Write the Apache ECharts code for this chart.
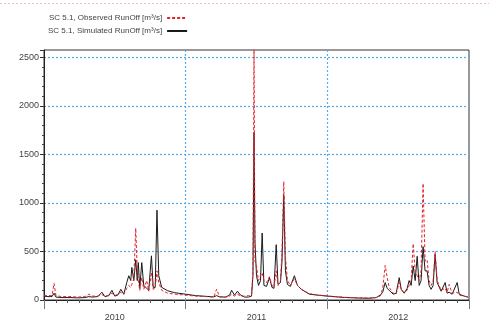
<!DOCTYPE html>
<html>
<head>
<meta charset="utf-8">
<script src="https://cdn.jsdelivr.net/npm/echarts@6/dist/echarts.min.js"></script>
<style>
  html, body { margin: 0; padding: 0; background: #fff; }
  #chart { width: 489px; height: 322px; }
</style>
</head>
<body>
<div id="chart"></div>
<script>
// months since 1 Jan 2010 (0..36)
const months = [
  0, 0.34, 0.68, 0.85, 1.01, 1.52, 2.20, 2.87, 3.46, 3.80, 4.06, 4.56, 4.90, 5.16, 5.49, 5.75,
  6.00, 6.25, 6.51, 6.76, 7.01, 7.18, 7.35, 7.44, 7.61, 7.77, 7.90, 7.99, 8.11, 8.28, 8.45, 8.70,
  8.87, 9.10, 9.25, 9.42, 9.57, 9.72, 9.97, 10.48, 11.07, 12.00, 12.85, 13.69, 14.37, 14.62, 14.87,
  15.38, 15.72, 15.89, 16.14, 16.39, 16.65, 16.99, 17.32, 17.58, 17.70, 17.79, 17.87, 18.00, 18.17,
  18.34, 18.48, 18.63, 18.85, 19.10, 19.31, 19.48, 19.67, 19.82, 20.03, 20.16, 20.31, 20.45, 20.62,
  20.87, 21.21, 21.47, 21.80, 22.48, 23.32, 24.17, 25.44, 26.70, 27.55, 28.14, 28.48, 28.69, 28.90,
  29.07, 29.24, 29.58, 29.83, 30.09, 30.26, 30.51, 30.76, 30.93, 31.10, 31.27, 31.44, 31.61, 31.78,
  31.94, 32.11, 32.28, 32.45, 32.62, 32.79, 32.96, 33.13, 33.30, 33.64, 33.98, 34.15, 34.32, 34.57,
  35.00, 35.17, 35.59, 35.92
]

const observed = [
  50, 45, 45, 170, 45, 35, 35, 30, 35, 60, 40, 40, 55, 40, 50, 70,
  45, 60, 80, 60, 120, 150, 130, 160, 220, 740, 300, 200, 100, 230, 110, 200,
  90, 285, 110, 120, 300, 180, 100, 70, 60, 50, 40, 35, 30, 110, 35,
  30, 40, 60, 40, 60, 40, 40, 45, 50, 300, 2600, 400, 350, 200,
  250, 280, 200, 180, 240, 150, 130, 300, 150, 200, 500, 1220, 450, 200,
  150, 220, 150, 110, 65, 50, 40, 28, 22, 20, 25, 40, 120, 355,
  230, 130, 70, 60, 180, 100, 80, 100, 150, 200, 580, 300, 250, 200,
  300, 1200, 400, 415, 200, 150, 200, 500, 200, 100, 120, 80, 160, 70,
  80, 50, 40, 30
]

const simulated = [
  40, 35, 35, 70, 30, 25, 25, 22, 25, 35, 30, 35, 80, 35, 45, 100,
  40, 50, 110, 60, 180, 250, 200, 335, 200, 415, 200, 385, 120, 385, 150, 120,
  100, 455, 130, 130, 925, 250, 130, 95, 75, 60, 45, 38, 32, 45, 32,
  30, 50, 100, 50, 90, 50, 30, 30, 40, 250, 1720, 600, 250, 150,
  200, 690, 150, 140, 230, 130, 120, 570, 160, 180, 400, 1080, 300, 160,
  140, 250, 150, 110, 60, 48, 38, 26, 20, 18, 25, 50, 80, 180,
  120, 100, 60, 70, 230, 110, 70, 120, 200, 150, 350, 200, 450, 150,
  200, 550, 300, 300, 150, 110, 150, 470, 180, 90, 180, 70, 80, 60,
  180, 60, 40, 30
]

const yearLabels = ['2010', '2011', '2012']

const obsData = months.map((m, i) => [m, observed[i]])
const simData = months.map((m, i) => [m, simulated[i]])

const chart = echarts.init(document.getElementById('chart'))

const labelFont = 'Liberation Sans Narrow, Arial Narrow, Liberation Sans, sans-serif'
const gridBlue = '#5aaae8'

const option = {
  animation: false,
  backgroundColor: '#fff',
  grid: {
    left: 44,
    top: 50,
    right: 20,
    bottom: 19,
    show: true,
    borderColor: '#333',
    borderWidth: 1
  },
  legend: {
    orient: 'vertical',
    left: 43,
    top: 9,
    align: 'right',
    itemWidth: 20,
    itemHeight: 8,
    itemGap: 5,
    itemStyle: { opacity: 0 },
    textStyle: { color: '#444', fontSize: 8, fontFamily: labelFont },
    data: ['SC 5.1, Observed RunOff [m³/s]', 'SC 5.1, Simulated RunOff [m³/s]']
  },
  graphic: [
    {
      type: 'line',
      shape: { x1: 0, y1: 3.5, x2: 489, y2: 3.5 },
      style: { stroke: '#f2c2c2', lineWidth: 1, lineDash: [2, 2] }
    }
  ],
  xAxis: [
    {
      type: 'value',
      min: 0,
      max: 36,
      interval: 12,
      axisLine: { lineStyle: { color: '#222' } },
      axisTick: { length: 9, lineStyle: { color: '#777' } },
      minorTick: { show: true, splitNumber: 12, length: 3, lineStyle: { color: '#555' } },
      axisLabel: { show: false },
      splitLine: {
        show: true,
        showMinLine: false,
        showMaxLine: false,
        lineStyle: { color: gridBlue, type: [2, 2], width: 1.2 }
      }
    },
    {
      type: 'category',
      position: 'bottom',
      data: yearLabels,
      boundaryGap: true,
      axisLine: { show: false },
      axisTick: { show: false },
      axisLabel: { color: '#444', fontSize: 9, fontFamily: labelFont, margin: 13 },
      splitLine: { show: false }
    }
  ],
  yAxis: {
    type: 'value',
    min: 0,
    max: 2575,
    interval: 500,
    axisLine: { show: true, lineStyle: { color: '#222' } },
    axisTick: { show: true, length: 4, lineStyle: { color: '#333' } },
    minorTick: { show: true, splitNumber: 5, length: 2, lineStyle: { color: '#444' } },
    axisLabel: {
      color: '#444',
      fontSize: 9,
      fontFamily: labelFont,
      margin: 5,
      formatter: v => (v % 500 === 0 ? String(v) : '')
    },
    splitLine: {
      show: true,
      showMinLine: false,
      showMaxLine: false,
      lineStyle: { color: gridBlue, type: [2, 2], width: 1.2 }
    }
  },
  series: [
    {
      name: 'SC 5.1, Simulated RunOff [m³/s]',
      type: 'line',
      xAxisIndex: 0,
      data: simData,
      symbol: 'none',
      showSymbol: false,
      lineStyle: { color: '#1a1a1a', width: 1 },
      itemStyle: { color: '#1a1a1a' },
      z: 2
    },
    {
      name: 'SC 5.1, Observed RunOff [m³/s]',
      type: 'line',
      xAxisIndex: 0,
      data: obsData,
      symbol: 'none',
      showSymbol: false,
      lineStyle: { color: '#e3232b', width: 1, type: [3, 2] },
      itemStyle: { color: '#e3232b' },
      z: 3
    }
  ]
}

chart.setOption(option)
</script>
</body>
</html>
